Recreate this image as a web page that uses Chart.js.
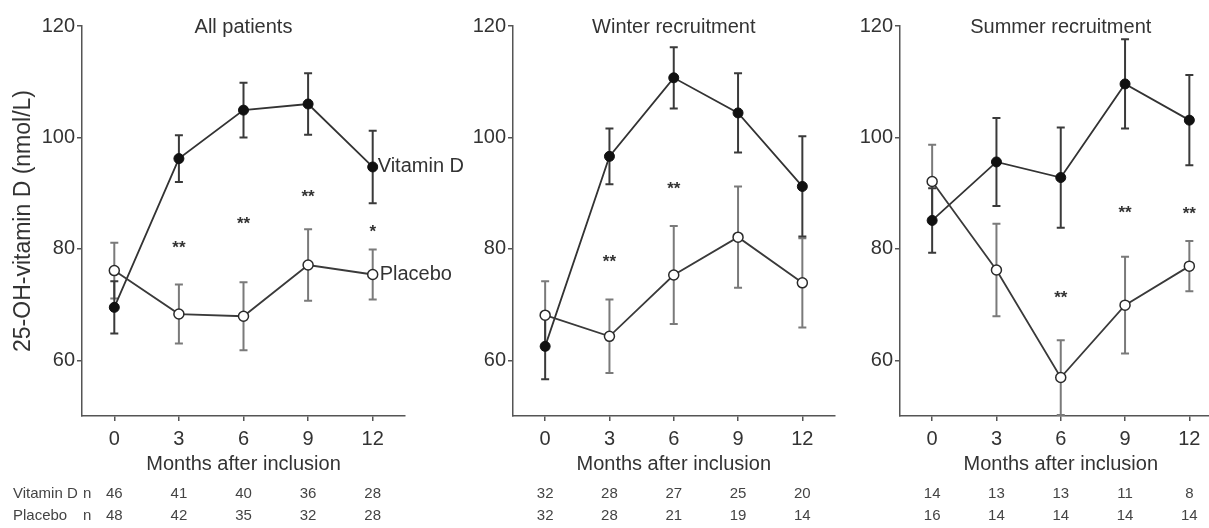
<!DOCTYPE html>
<html>
<head>
<meta charset="utf-8">
<script src="https://cdn.jsdelivr.net/npm/chart.js@4.4.1/dist/chart.umd.min.js"></script>
<style>
  body { margin: 0; background: #fff; width: 1209px; height: 528px; overflow: hidden; position: relative; }
  canvas { position: absolute; top: 0; }
</style>
</head>
<body>
<canvas id="c1" width="480" height="528" style="left:0px"></canvas>
<canvas id="c2" width="410" height="528" style="left:431px"></canvas>
<canvas id="c3" width="410" height="528" style="left:818px"></canvas>
<script>
// months after inclusion
const months = [0, 3, 6, 9, 12];
const yTicks = [60, 80, 100, 120];

// All patients
const allVitD = [69.5, 96.2, 104.9, 106.0, 94.7];
const allVitDErr = [4.7, 4.2, 4.9, 5.5, 6.5];
const allPlacebo = [76.1, 68.3, 67.9, 77.1, 75.4];
const allPlaceboErr = [5.0, 5.3, 6.1, 6.4, 4.5];
const allStars = ['', '**', '**', '**', '*'];
const allStarY = [null, 81.0, 85.3, 90.1, 83.9];
const allNVitD = [46, 41, 40, 36, 28];
const allNPlacebo = [48, 42, 35, 32, 28];

// Winter recruitment
const winterVitD = [62.5, 96.6, 110.7, 104.4, 91.2];
const winterVitDErr = [5.9, 5.0, 5.5, 7.1, 9.0];
const winterPlacebo = [68.1, 64.3, 75.3, 82.1, 73.9];
const winterPlaceboErr = [6.1, 6.6, 8.8, 9.1, 8.0];
const winterStars = ['', '**', '**', '', ''];
const winterStarY = [null, 78.4, 91.6, null, null];
const winterNVitD = [32, 28, 27, 25, 20];
const winterNPlacebo = [32, 28, 21, 19, 14];

// Summer recruitment
const summerVitD = [85.1, 95.6, 92.8, 109.6, 103.1];
const summerVitDErr = [5.8, 7.9, 9.0, 8.0, 8.1];
const summerPlacebo = [92.1, 76.2, 56.9, 69.9, 76.9];
const summerPlaceboErr = [6.6, 8.3, 6.7, 8.7, 4.5];
const summerStars = ['', '', '**', '**', '**'];
const summerStarY = [null, null, 72.1, 87.2, 87.1];
const summerNVitD = [14, 13, 13, 11, 8];
const summerNPlacebo = [16, 14, 14, 14, 14];

const FONT = "'Liberation Sans', Arial, sans-serif";
const TEXT = '#333';
const AXIS = '#555';

const pts = vals => vals.map((v, i) => ({ x: months[i], y: v }));

// vertical error bars with caps, drawn under the markers
const errorBars = {
  id: 'errorBars',
  beforeDatasetsDraw(chart) {
    const { ctx, chartArea: a, scales: { x, y } } = chart;
    ctx.save();
    ctx.beginPath();
    ctx.rect(a.left, a.top - 3, a.right - a.left, a.bottom - a.top + 3);
    ctx.clip();
    chart.data.datasets.forEach(ds => {
      ctx.strokeStyle = ds.errorColor;
      ctx.lineWidth = 2;
      ds.data.forEach((p, i) => {
        const px = x.getPixelForValue(p.x);
        const hi = y.getPixelForValue(p.y + ds.errors[i]);
        const lo = y.getPixelForValue(p.y - ds.errors[i]);
        ctx.beginPath();
        ctx.moveTo(px, hi); ctx.lineTo(px, lo);
        ctx.moveTo(px - 4, hi); ctx.lineTo(px + 4, hi);
        ctx.moveTo(px - 4, lo); ctx.lineTo(px + 4, lo);
        ctx.stroke();
      });
    });
    ctx.restore();
  }
};

// titles, stars, series names and the n table
const extras = {
  id: 'extras',
  afterDraw(chart) {
    const { ctx, chartArea: a, scales: { x, y } } = chart;
    const o = chart.options.plugins.extras;
    ctx.save();
    ctx.fillStyle = TEXT;
    ctx.textBaseline = 'middle';

    ctx.font = '20px ' + FONT;
    ctx.textAlign = 'center';
    ctx.fillText(o.title, (a.left + a.right) / 2, y.getPixelForValue(120) + 1);

    ctx.font = 'bold 17px ' + FONT;
    o.stars.forEach((s, i) => {
      if (s) ctx.fillText(s, x.getPixelForValue(months[i]), y.getPixelForValue(o.starY[i]) + 5);
    });

    if (o.seriesLabels) {
      ctx.font = '20px ' + FONT;
      ctx.textAlign = 'left';
      const last = months.length - 1;
      ctx.fillText('Vitamin D', x.getPixelForValue(months[last]) + 5, y.getPixelForValue(o.vitD[last]));
      ctx.fillText('Placebo', x.getPixelForValue(months[last]) + 7, y.getPixelForValue(o.placebo[last]));
    }

    ctx.fillStyle = '#444';
    ctx.font = '15px ' + FONT;
    const r1 = a.bottom + 78, r2 = a.bottom + 100;
    if (o.rowNames) {
      ctx.textAlign = 'left';
      ctx.fillText('Vitamin D', 13, r1);
      ctx.fillText('n', 83, r1);
      ctx.fillText('Placebo', 13, r2);
      ctx.fillText('n', 83, r2);
    }
    ctx.textAlign = 'center';
    months.forEach((m, i) => {
      const px = x.getPixelForValue(m);
      ctx.fillText(String(o.nVitD[i]), px, r1);
      ctx.fillText(String(o.nPlacebo[i]), px, r2);
    });
    ctx.restore();
  }
};

function makePanel(id, title, vitD, vitDErr, placebo, placeboErr, stars, starY, nVitD, nPlacebo, first, padRight) {
  return new Chart(document.getElementById(id), {
    type: 'line',
    data: {
      datasets: [{
        label: 'Placebo',
        data: pts(placebo),
        errors: placeboErr,
        errorColor: '#7a7a7a',
        borderColor: '#3a3a3a',
        borderWidth: 1.8,
        pointRadius: 5,
        pointBorderWidth: 1.5,
        pointBackgroundColor: '#fff',
        pointBorderColor: '#2a2a2a',
        tension: 0
      }, {
        label: 'Vitamin D',
        data: pts(vitD),
        errors: vitDErr,
        errorColor: '#3a3a3a',
        borderColor: '#333',
        borderWidth: 1.8,
        pointRadius: 5,
        pointBorderWidth: 1,
        pointBackgroundColor: '#111',
        pointBorderColor: '#111',
        tension: 0
      }]
    },
    options: {
      responsive: false,
      animation: false,
      devicePixelRatio: 1,
      layout: { padding: { left: 0, top: 26, right: padRight, bottom: 52 } },
      plugins: {
        legend: { display: false },
        tooltip: { enabled: false },
        extras: { title, stars, starY, nVitD, nPlacebo, vitD, placebo, seriesLabels: first, rowNames: first }
      },
      scales: {
        x: {
          type: 'linear',
          min: -1.5,
          max: 13.5,
          afterBuildTicks: s => { s.ticks = months.map(v => ({ value: v })); },
          afterFit: s => { s.height = 60; },
          border: { display: true, color: AXIS, width: 1.5 },
          grid: { drawOnChartArea: false, drawTicks: true, tickLength: 5, color: AXIS, lineWidth: 1.5 },
          ticks: { color: TEXT, font: { family: FONT, size: 20 }, padding: 6, maxRotation: 0 },
          title: { display: true, text: 'Months after inclusion', color: TEXT, font: { family: FONT, size: 20 }, padding: 0 }
        },
        y: {
          min: 50,
          max: 120,
          afterBuildTicks: s => { s.ticks = yTicks.map(v => ({ value: v })); },
          afterFit: s => { s.width = 82; },
          border: { display: true, color: AXIS, width: 1.5 },
          grid: { drawOnChartArea: false, drawTicks: true, tickLength: 5, color: AXIS, lineWidth: 1.5 },
          ticks: { color: TEXT, font: { family: FONT, size: 20 }, padding: 2 },
          title: { display: first, text: '25-OH-vitamin D (nmol/L)', color: TEXT, font: { family: FONT, size: 23 }, padding: { top: 10, bottom: 0 } }
        }
      }
    },
    plugins: [errorBars, extras]
  });
}

makePanel('c1', 'All patients', allVitD, allVitDErr, allPlacebo, allPlaceboErr, allStars, allStarY, allNVitD, allNPlacebo, true, 75);
makePanel('c2', 'Winter recruitment', winterVitD, winterVitDErr, winterPlacebo, winterPlaceboErr, winterStars, winterStarY, winterNVitD, winterNPlacebo, false, 5);
makePanel('c3', 'Summer recruitment', summerVitD, summerVitDErr, summerPlacebo, summerPlaceboErr, summerStars, summerStarY, summerNVitD, summerNPlacebo, false, 5);
</script>
</body>
</html>
